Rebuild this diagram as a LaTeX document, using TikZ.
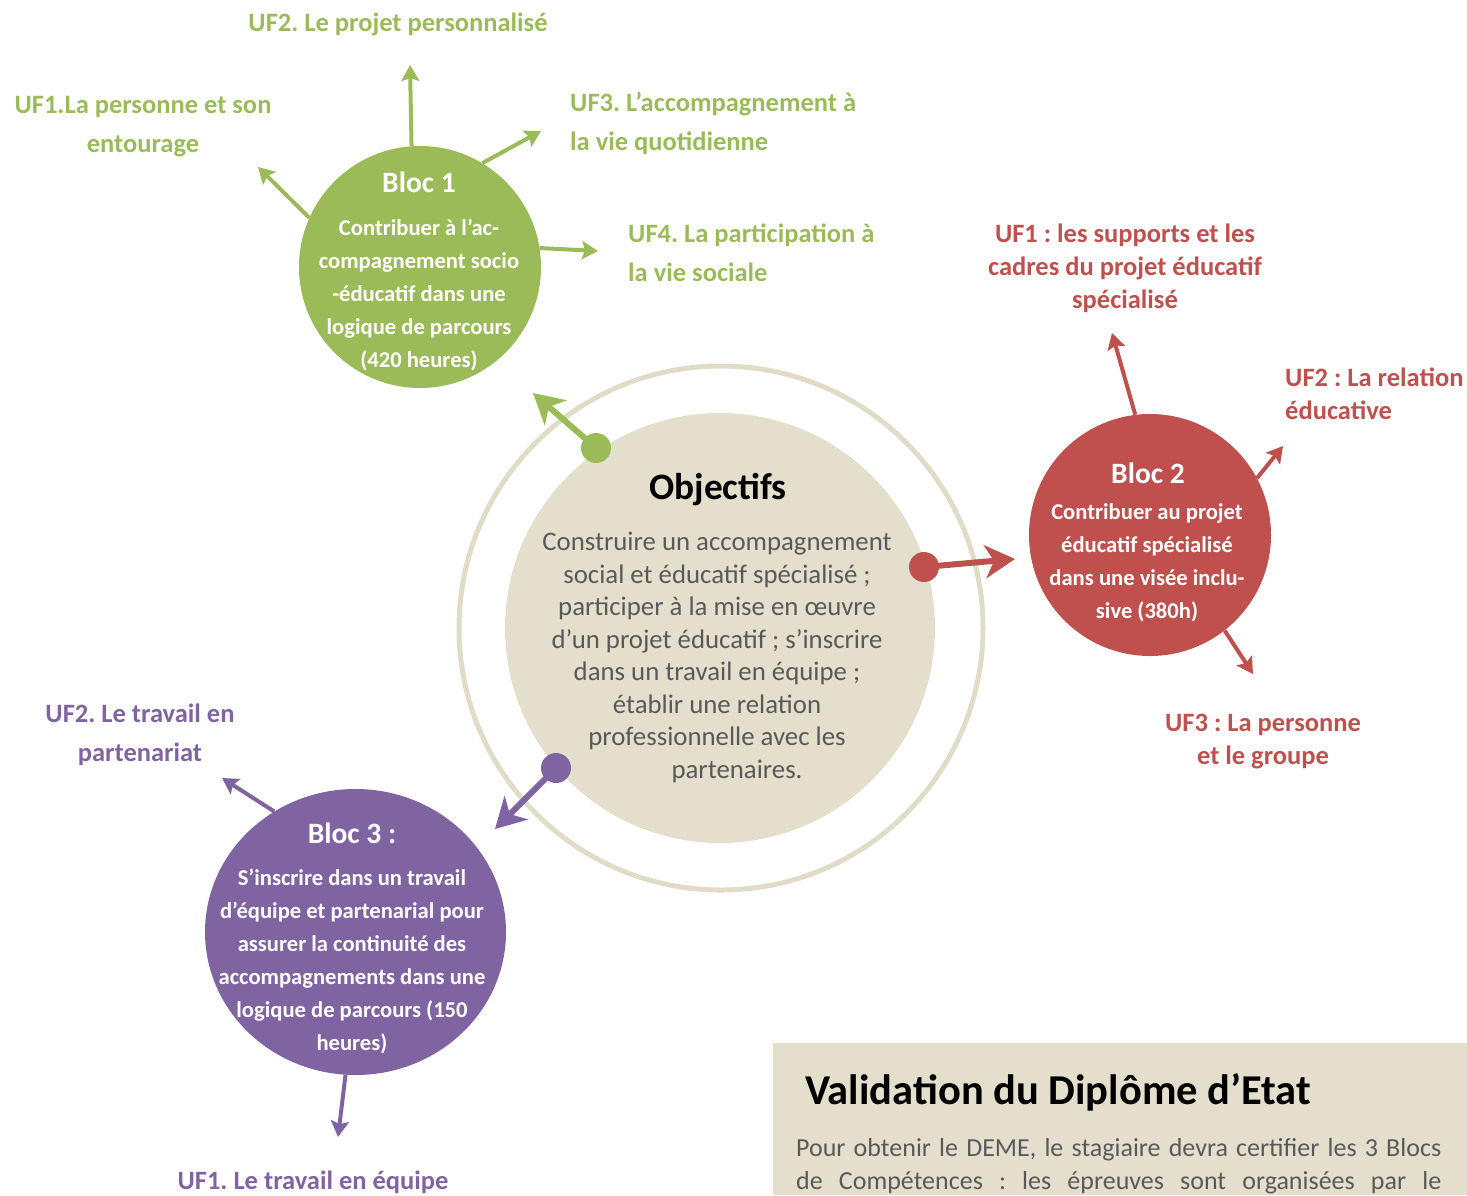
\documentclass[tikz,border=0pt]{standalone}
\usepackage{fontspec}
\setmainfont{Carlito}
\usetikzlibrary{arrows.meta,shapes.geometric}
\frenchspacing
\definecolor{cgreen}{HTML}{9BBB59}
\definecolor{cred}{HTML}{C0504D}
\definecolor{cpurple}{HTML}{8064A2}
\definecolor{cbeige}{HTML}{E3DFCC}
\definecolor{cring}{HTML}{E0DCC8}
\definecolor{cgray}{HTML}{595959}
\tikzset{
  blocshape/.style={ellipse, inner sep=0pt, fill=#1, draw=none},
  dotshape/.style={circle, inner sep=0pt, minimum size=30pt, fill=#1},
  txt/.style={inner sep=0pt, yshift=-2.5pt},
  ufgreen/.style={txt, font=\fontsize{26.5}{39}\selectfont\bfseries, text=cgreen},
  ufred/.style={txt, font=\fontsize{26.5}{33}\selectfont\bfseries, text=cred},
  ufpurple/.style={txt, font=\fontsize{26.5}{39}\selectfont\bfseries, text=cpurple},
  bloctitle/.style={txt, font=\fontsize{29.5}{34}\selectfont\bfseries, text=white},
  blocbody/.style={txt, font=\fontsize{22.6}{33}\selectfont\bfseries, text=white, align=center},
  thinarrow/.style={draw=#1, line width=4pt, -{Stealth[length=16pt,width=18pt,inset=3pt]}},
  thickarrow/.style={draw=#1, line width=6pt, -{Stealth[length=30pt,width=33pt,inset=9pt]}},
}
\begin{document}
\begin{tikzpicture}[x=1pt,y=-1pt]
\useasboundingbox (0,0) rectangle (1467,1195);

% central rings
\node[circle, draw=cring, line width=5pt, minimum size=524pt, inner sep=0pt] (ring) at (721,628) {};
\node[circle, fill=cbeige, minimum size=430pt, inner sep=0pt] (obj) at (720,628) {};
\node[txt, font=\fontsize{37.3}{44}\selectfont\bfseries, text=black] (objt) at (718,487) {Objectifs};
\node[txt, font=\fontsize{26.8}{32.5}\selectfont, text=cgray, align=center] (objb) at (717,655)
  {Construire un accompagnement\\social et éducatif spécialisé ;\\participer à la mise en œuvre\\d’un projet éducatif ; s’inscrire\\dans un travail en équipe ;\\établir une relation\\professionnelle avec les\\\hspace*{40pt}partenaires.};

% blocs
\node[blocshape=cgreen, minimum width=242pt, minimum height=242pt] (b1) at (420,267) {};
\node[bloctitle] (b1t) at (419,180) {Bloc 1};
\node[blocbody] (b1b) at (419,292) {Contribuer à l’ac-\\compagnement socio\\-éducatif dans une\\logique de parcours\\(420 heures)};

\node[blocshape=cred, minimum width=242pt, minimum height=242pt] (b2) at (1150,535) {};
\node[bloctitle] (b2t) at (1148,471) {Bloc 2};
\node[blocbody] (b2b) at (1147,560) {Contribuer au projet\\éducatif spécialisé\\dans une visée inclu-\\sive (380h)};

\node[blocshape=cpurple, minimum width=301pt, minimum height=286pt] (b3) at (355.5,932) {};
\node[bloctitle] (b3t) at (352,831) {Bloc 3 :};
\node[blocbody] (b3b) at (352,959) {S’inscrire dans un travail\\d’équipe et partenarial pour\\assurer la continuité des\\accompagnements dans une\\logique de parcours (150\\heures)};

% dots and main arrows
\node[dotshape=cgreen] (gdot) at (596,448) {};
\node[dotshape=cred] (rdot) at (924,567) {};
\node[dotshape=cpurple] (pdot) at (556,768) {};
\coordinate (gtip) at (533,393);
\coordinate (rtip) at (1015,559);
\coordinate (ptip) at (495,829);
\draw[thickarrow=cgreen] (gdot.center) -- (gtip);
\draw[thickarrow=cred] (rdot.center) -- (rtip);
\draw[thickarrow=cpurple] (pdot.center) -- (ptip);

% bloc 1 arrows
\coordinate (g1) at (258,167);
\coordinate (g2) at (410,65);
\coordinate (g3) at (541,131);
\coordinate (g4) at (598,251);
\draw[thinarrow=cgreen] (b1.156) -- (g1);
\draw[thinarrow=cgreen] (b1.94) -- (g2);
\draw[thinarrow=cgreen] (b1.59) -- (g3);
\draw[thinarrow=cgreen] (b1.9) -- (g4);

% bloc 2 arrows
\coordinate (r1) at (1112,333);
\coordinate (r2) at (1283,446);
\coordinate (r3) at (1253,674);
\draw[thinarrow=cred] (b2.97) -- (r1);
\draw[thinarrow=cred] (b2.28) -- (r2);
\draw[thinarrow=cred] (b2.-52) -- (r3);

% bloc 3 arrows
\coordinate (p1) at (222,778);
\coordinate (p2) at (338,1137);
\draw[thinarrow=cpurple] (b3.124) -- (p1);
\draw[thinarrow=cpurple] (b3.-94) -- (p2);

% labels
\node[ufgreen] (lg2) at (398,22) {UF2. Le projet personnalisé};
\node[ufgreen, align=center] (lg1) at (143,124.5) {UF1.La personne et son\\entourage};
\node[ufgreen, align=left, anchor=west] (lg3) at (570,120.5) {UF3. L’accompagnement à\\la vie quotidienne};
\node[ufgreen, align=left, anchor=west] (lg4) at (628,250.5) {UF4. La participation à\\la vie sociale};

\node[ufred, align=center] (lr1) at (1125,265.5) {UF1 : les supports et les\\cadres du projet éducatif\\spécialisé};
\node[ufred, align=left, anchor=west] (lr2) at (1285,391) {UF2 : La relation\\éducative};
\node[ufred, align=center] (lr3) at (1263,739) {UF3 : La personne\\et le groupe};

\node[ufpurple, align=center] (lp2) at (140,732.5) {UF2. Le travail en\\partenariat};
\node[ufpurple] (lp1) at (313,1180) {UF1. Le travail en équipe};

% validation box
\fill[cbeige] (773,1043) rectangle (1467,1195);
\node[txt, font=\fontsize{42.5}{48}\selectfont\bfseries, text=black, anchor=west] (vt) at (805,1090) {Validation du Diplôme d’Etat};
\node[txt, font=\fontsize{26}{33}\selectfont, text=cgray, anchor=west] (vb1) at (796,1147) {\makebox[645pt][s]{Pour obtenir le DEME, le stagiaire devra certifier les 3 Blocs}};
\node[txt, font=\fontsize{26}{33}\selectfont, text=cgray, anchor=west] (vb2) at (796,1180) {\makebox[645pt][s]{de Compétences : les épreuves sont organisées par le}};
\end{tikzpicture}
\end{document}
